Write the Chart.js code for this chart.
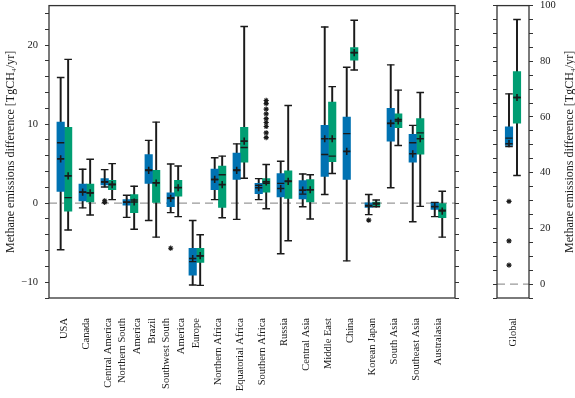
<!DOCTYPE html>
<html lang="en">
<head>
<meta charset="UTF-8" />
<title>Methane emissions difference by region</title>
<script src="https://cdn.jsdelivr.net/npm/chart.js"></script>
<style>
  body { margin: 0; background: #fff; }
  #wrap { position: relative; width: 575px; height: 398px; }
  #mainChart { position: absolute; left: 0; top: 0; }
  #globalChart { position: absolute; left: 470px; top: 0; }
</style>
</head>
<body>
<div id="wrap">
  <canvas id="mainChart" width="470" height="398"></canvas>
  <canvas id="globalChart" width="105" height="398"></canvas>
</div>
<script>
// regions (two-line labels are arrays)
const regions = ["USA", "Canada", "Central America", ["Northern South", "America"], "Brazil",
  ["Southwest South", "America"], "Europe", "Northern Africa", "Equatorial Africa", "Southern Africa",
  "Russia", "Central Asia", "Middle East", "China", "Korean Japan", "South Asia", "Southeast Asia", "Australasia"];

// blue series (TgCH4/yr)
const blueMin  = [-5.9, -0.6, 2.05, -1.8, -2.2, -1.2, -10.35, 0.45, -2.05, 0.45, -6.4, -0.45, 1.1, -7.3, -1.45, 1.95, -2.35, -1.7];
const blueQ1   = [1.5, 0.3, 2.3, -0.25, 2.5, -0.45, -9.1, 1.7, 3.0, 1.2, 0.8, 0.55, 3.4, 3.0, -0.55, 7.85, 5.2, -0.8];
const blueMed  = [7.65, 1.4, 2.7, 0.1, 4.2, 0.7, -7.4, 3.0, 4.2, 2.25, 2.5, 1.15, 6.15, 8.8, -0.3, 10.1, 7.65, -0.4];
const blueQ3   = [10.25, 2.4, 3.1, 0.45, 6.15, 1.3, -5.7, 4.3, 6.35, 2.5, 3.75, 2.85, 9.85, 10.9, 0.05, 12.0, 8.7, 0.1];
const blueMax  = [15.9, 4.3, 4.25, 1.0, 7.95, 4.95, -2.2, 5.75, 7.5, 3.1, 5.3, 3.7, 22.3, 17.2, 1.1, 17.5, 9.85, 0.1];
const blueMean = [5.6, 1.4, 2.7, 0.15, 4.15, 0.6, -7.0, 3.0, 4.15, 1.95, 1.85, 1.65, 8.15, 6.55, -0.35, 10.1, 6.25, -0.45];
const blueOutliers = [[2, 0.3], [2, 0.1], [5, -5.7], [14, -2.15]];

// green series (TgCH4/yr)
const greenMin  = [-3.4, -1.5, 0.45, -3.3, -4.3, -1.7, -10.4, -1.85, 3.15, -0.7, -4.75, -2.0, 3.75, 16.85, -0.45, 7.3, -0.4, -4.3];
const greenQ1   = [-1.0, 0.15, 1.7, -1.2, 0.1, 0.9, -7.5, -0.55, 5.2, 1.4, 0.6, 0.15, 5.25, 18.1, -0.4, 9.55, 6.2, -1.85];
const greenMed  = [0.7, 1.3, 2.4, 0.4, 2.6, 2.0, -6.7, 3.6, 7.05, 2.5, 2.8, 1.7, 5.95, 19.05, 0.0, 10.6, 8.9, -0.9];
const greenQ3   = [9.6, 2.4, 2.9, 1.1, 4.15, 2.9, -5.7, 4.7, 9.6, 3.1, 4.1, 3.0, 12.8, 19.7, 0.15, 11.3, 10.7, -0.05];
const greenMax  = [18.2, 5.55, 5.0, 2.15, 10.25, 4.7, -4.0, 5.95, 22.35, 4.9, 12.35, 3.6, 14.75, 23.15, 0.4, 14.3, 14.0, 1.5];
const greenMean = [3.45, 1.3, 2.35, 0.15, 2.55, 1.95, -6.65, 2.35, 7.85, 2.7, 2.75, 1.7, 8.15, 19.05, -0.1, 10.4, 8.15, -1.0];
const greenOutliers = [[9, 13.0], [9, 12.6], [9, 11.9], [9, 11.3], [9, 10.7], [9, 10.2], [9, 9.7], [9, 8.9], [9, 8.3]];

// global panel
const globalLabel = "Global";
const globalBlue  = { min: [49.4], q1: [49.8], med: [52.4], q3: [56.5], max: [68.3], mean: [50.4] };
const globalGreen = { min: [39.0], q1: [57.8], med: [67.0], q3: [76.3], max: [95.0], mean: [67.0] };
const globalBlueOutliers = [[0, 29.7], [0, 15.5], [0, 6.8]];

// axis ticks
const yTicksMain = [-12, -10, -8, -6, -4, -2, 0, 2, 4, 6, 8, 10, 12, 14, 16, 18, 20, 22, 24];
const yLabelsMain = [-10, 0, 10, 20];
const yTicksGlobal = [-5, 0, 5, 10, 15, 20, 25, 30, 35, 40, 45, 50, 55, 60, 65, 70, 75, 80, 85, 90, 95, 100];
const yLabelsGlobal = [0, 20, 40, 60, 80, 100];

const yTitle = "Methane emissions difference [TgCH\u2084/yr]";
const BLUE = "#0072B2";
const GREEN = "#009E73";
const INK = "#1a1a1a";
const FONT = "'Liberation Serif', 'DejaVu Serif', serif";

Chart.defaults.font.family = FONT;
Chart.defaults.color = INK;

function fmt(v) {
  return v < 0 ? "\u2212" + Math.abs(v) : String(v);
}

// builds the datasets of one box series
function boxSets(xs, s, color, outliers, shift) {
  const pt = (i, v) => ({ x: xs[i], y: v });
  return [
    { type: "bar", data: xs.map((x, i) => ({ x: x, y: [s.min[i], s.max[i]] })),
      backgroundColor: INK, barThickness: 1.3, grouped: false, order: 6 },
    { type: "bar", data: xs.map((x, i) => ({ x: x, y: [s.q1[i], s.q3[i]] })),
      backgroundColor: color, barThickness: 7.5, grouped: false, order: 5 },
    { type: "scatter", data: xs.flatMap((x, i) => [pt(i, s.min[i]), pt(i, s.max[i])]),
      pointStyle: "line", pointRadius: 3.8, borderColor: INK, borderWidth: 1.4, order: 4 },
    { type: "scatter", data: xs.map((x, i) => pt(i, s.med[i])),
      pointStyle: "line", pointRadius: 3.6, borderColor: INK, borderWidth: 1.4, order: 3 },
    { type: "scatter", data: xs.map((x, i) => pt(i, s.mean[i])),
      pointStyle: "cross", pointRadius: 3.6, borderColor: INK, borderWidth: 1.6, order: 2 },
    { type: "scatter", data: outliers.map(o => ({ x: o[0] + shift, y: o[1] })),
      pointStyle: "star", pointRadius: 2.6, borderColor: INK, borderWidth: 1.1, order: 1 }
  ];
}

const frame = {
  id: "frame",
  afterDraw(chart) {
    const a = chart.chartArea, ctx = chart.ctx;
    ctx.save();
    ctx.strokeStyle = "#333";
    ctx.lineWidth = 1.3;
    ctx.strokeRect(a.left, a.top, a.right - a.left, a.bottom - a.top);
    ctx.restore();
  }
};

function yAxis(pos, min, max, ticks, labels, width, showLabels) {
  return {
    position: pos, min: min, max: max,
    afterBuildTicks: s => { s.ticks = ticks.map(v => ({ value: v })); },
    afterFit: s => { s.width = width; s.paddingTop = 0; s.paddingBottom = 0; },
    ticks: {
      callback: v => (showLabels && labels.includes(v)) ? fmt(v) : "",
      autoSkip: false, padding: 7, font: { size: 10.5 }, color: INK
    },
    grid: { drawOnChartArea: false, tickLength: 4, tickColor: "#333", tickWidth: 1 },
    border: { display: false }
  };
}

// main panel
const off = 0.17;
const xsBlue = regions.map((r, i) => i - off);
const xsGreen = regions.map((r, i) => i + off);
const xMin = -0.7, xMax = 17.75;

const blueStats = { min: blueMin, q1: blueQ1, med: blueMed, q3: blueQ3, max: blueMax, mean: blueMean };
const greenStats = { min: greenMin, q1: greenQ1, med: greenMed, q3: greenQ3, max: greenMax, mean: greenMean };

const mainY = yAxis("left", -12, 25, yTicksMain, yLabelsMain, 49, true);
mainY.title = { display: true, text: yTitle, font: { size: 12 }, padding: { top: 4, bottom: 0 }, color: INK };

new Chart(document.getElementById("mainChart"), {
  type: "bar",
  data: {
    datasets: [
      { type: "line", data: [{ x: xMin, y: 0 }, { x: xMax, y: 0 }], borderColor: "#999",
        borderWidth: 1.1, borderDash: [8, 5], pointRadius: 0, order: 10 },
      ...boxSets(xsBlue, blueStats, BLUE, blueOutliers, -off),
      ...boxSets(xsGreen, greenStats, GREEN, greenOutliers, off)
    ]
  },
  options: {
    responsive: false,
    animation: false,
    layout: { padding: { top: 5, left: 0, right: 0, bottom: 0 } },
    plugins: { legend: { display: false }, tooltip: { enabled: false } },
    scales: {
      x: {
        type: "linear", min: xMin, max: xMax, offset: false,
        afterBuildTicks: s => {
          s.ticks = regions.map((r, i) => ({ value: i - (Array.isArray(r) ? 0.36 : 0) }));
        },
        afterFit: s => { s.height = 100; s.paddingLeft = 0; s.paddingRight = 0; },
        ticks: {
          callback: (v, i) => regions[i],
          autoSkip: false, minRotation: 90, maxRotation: 90, padding: 12,
          font: { size: 10.5, lineHeight: 1.45 }, color: INK
        },
        grid: { display: false },
        border: { display: false }
      },
      y: mainY,
      y2: yAxis("right", -12, 25, yTicksMain, yLabelsMain, 15, false)
    }
  },
  plugins: [frame]
});

// global panel
const gOff = 0.25;
const rightTitle = {
  id: "rightTitle",
  afterDraw(chart) {
    const a = chart.chartArea, ctx = chart.ctx;
    ctx.save();
    ctx.translate(100, (a.top + a.bottom) / 2);
    ctx.rotate(-Math.PI / 2);
    ctx.font = "12px " + FONT;
    ctx.fillStyle = INK;
    ctx.textAlign = "center";
    ctx.textBaseline = "middle";
    ctx.fillText(yTitle, 0, 0);
    ctx.restore();
  }
};

new Chart(document.getElementById("globalChart"), {
  type: "bar",
  data: {
    datasets: [
      { type: "line", data: [{ x: -1, y: 0 }, { x: 1, y: 0 }], borderColor: "#999",
        borderWidth: 1.1, borderDash: [8, 5], pointRadius: 0, order: 10 },
      ...boxSets([-gOff], globalBlue, BLUE, globalBlueOutliers, -gOff),
      ...boxSets([gOff], globalGreen, GREEN, [], gOff)
    ]
  },
  options: {
    responsive: false,
    animation: false,
    layout: { padding: { top: 5, left: 0, right: 0, bottom: 0 } },
    plugins: { legend: { display: false }, tooltip: { enabled: false } },
    scales: {
      x: {
        type: "linear", min: -1, max: 1, offset: false,
        afterBuildTicks: s => { s.ticks = [{ value: 0 }]; },
        afterFit: s => { s.height = 100; s.paddingLeft = 0; s.paddingRight = 0; },
        ticks: {
          callback: () => globalLabel,
          autoSkip: false, minRotation: 90, maxRotation: 90, padding: 12,
          font: { size: 10.5 }, color: INK
        },
        grid: { display: false },
        border: { display: false }
      },
      yl: Object.assign(yAxis("left", -5, 100, yTicksGlobal, yLabelsGlobal, 27, false), { axis: "y" }),
      y: yAxis("right", -5, 100, yTicksGlobal, yLabelsGlobal, 46, true)
    }
  },
  plugins: [frame, rightTitle]
});
</script>
</body>
</html>
